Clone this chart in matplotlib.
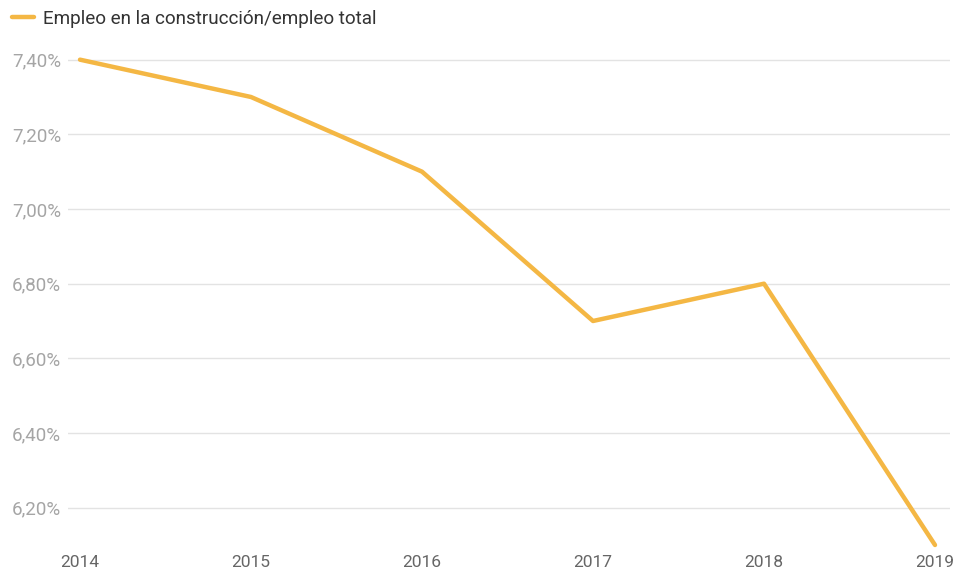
import matplotlib.pyplot as plt
from matplotlib.ticker import FuncFormatter

years = [2014, 2015, 2016, 2017, 2018, 2019]
share = [7.40, 7.30, 7.10, 6.70, 6.80, 6.10]
y_ticks = [6.20, 6.40, 6.60, 6.80, 7.00, 7.20, 7.40]
series_name = 'Empleo en la construcción/empleo total'

plt.rcParams['font.family'] = ['Roboto', 'DejaVu Sans']

fig = plt.figure(figsize=(9.57, 5.73), dpi=100)
ax = fig.add_axes([68 / 957, 28 / 573, 882 / 957, 504 / 573])

ax.plot(years, share, color='#F4B744', lw=3.2, solid_capstyle='round',
        solid_joinstyle='round', clip_on=False, label=series_name, zorder=3)

ax.set_xlim(2014 - 12 / 171, 2019 + 15 / 171)
ax.set_ylim(6.10, 7.45)
ax.set_xticks(years)
ax.set_yticks(y_ticks)
ax.yaxis.set_major_formatter(FuncFormatter(lambda v, p: f'{v:.2f}%'.replace('.', ',')))

for s in ax.spines.values():
    s.set_visible(False)
ax.grid(axis='y', color='#e3e3e3', lw=1)
ax.tick_params(axis='y', length=0, pad=5, labelsize=13.5, labelcolor='#a5a5a5')
ax.tick_params(axis='x', length=0, pad=7.5, labelsize=12.5, labelcolor='#666666')

fig.legend(loc='upper left', bbox_to_anchor=(12 / 957, 1 - 10 / 573), frameon=False,
           fontsize=13.6, handlelength=1.15, handletextpad=0.5, borderpad=0,
           borderaxespad=0, labelcolor='#333333')

plt.savefig('out.png', dpi=100)
